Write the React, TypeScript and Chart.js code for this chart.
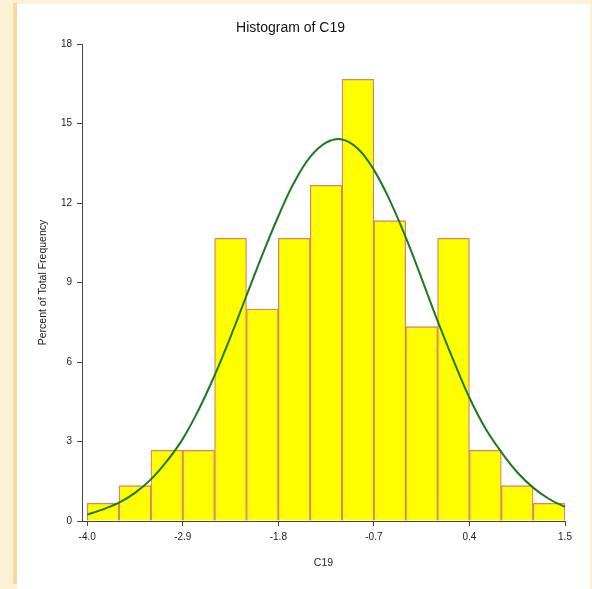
import React, { useEffect, useRef } from "react";
import { Chart, registerables } from "chart.js";

Chart.register(...registerables);

// Histogram bins (C19), range and percentages
const binLow = -4.0;
const binHigh = 1.5;
const binPercents = [
  0.667, 1.333, 2.667, 2.667, 10.667, 8.0, 10.667, 12.667, 16.667, 11.333,
  7.333, 10.667, 2.667, 1.333, 0.667,
];

// Fitted curve
const curveX = [
  -4.0, -3.817, -3.633, -3.45, -3.267, -3.083, -2.9, -2.717, -2.533, -2.35,
  -2.167, -1.983, -1.8, -1.617, -1.433, -1.25, -1.067, -0.883, -0.7, -0.517,
  -0.333, -0.15, 0.033, 0.217, 0.4, 0.583, 0.767, 0.95, 1.133, 1.317, 1.5,
];
const curveY = [
  0.24, 0.44, 0.69, 1.06, 1.57, 2.26, 3.1, 4.2, 5.5, 6.95,
  8.5, 10.05, 11.5, 12.78, 13.74, 14.28, 14.4, 14.05, 13.25, 12.1,
  10.7, 9.15, 7.55, 6.05, 4.65, 3.5, 2.6, 1.84, 1.26, 0.83, 0.53,
];

const xTickValues = [-4.0, -2.9, -1.8, -0.7, 0.4, 1.5];
const yTickStep = 3;
const yMax = 18;

const FONT = "'Liberation Sans', Arial, sans-serif";

export default function App() {
  const canvasRef = useRef<HTMLCanvasElement | null>(null);

  useEffect(() => {
    const canvas = canvasRef.current;
    if (!canvas) return;
    const n = binPercents.length;
    const w = (binHigh - binLow) / n;
    const barData = binPercents.map((p, i) => ({ x: binLow + (i + 0.5) * w, y: p }));
    const lineData = curveX.map((x, i) => ({ x, y: curveY[i] }));

    const chart = new Chart(canvas, {
      type: "bar",
      data: {
        datasets: [
          {
            type: "line",
            data: lineData,
            borderColor: "#1f7a1f",
            borderWidth: 2,
            pointRadius: 0,
            tension: 0.4,
            fill: false,
            order: 0,
          } as any,
          {
            type: "bar",
            data: barData,
            backgroundColor: "#ffff00",
            borderColor: "#d9846a",
            borderWidth: 1.3,
            barPercentage: 1,
            categoryPercentage: 1,
            order: 1,
          } as any,
        ],
      },
      options: {
        animation: false,
        responsive: false,
        devicePixelRatio: 1,
        layout: { padding: { left: 16, right: 27, top: 0, bottom: 0 } },
        plugins: {
          legend: { display: false },
          tooltip: { enabled: false },
          title: {
            display: true,
            text: "Histogram of C19",
            color: "#111",
            font: { family: FONT, size: 14, weight: "normal" },
            padding: { top: 20.2, bottom: 7.0 },
          },
        },
        scales: {
          x: {
            type: "linear",
            min: -4.06,
            max: binHigh,
            offset: false,
            grid: {
              display: true,
              offset: false,
              drawOnChartArea: false,
              drawTicks: true,
              tickLength: 5,
              color: "#444",
            },
            border: { display: true, color: "#444", width: 1 },
            afterBuildTicks: (axis: any) => {
              axis.ticks = xTickValues.map((v) => ({ value: v }));
            },
            afterFit: (axis: any) => {
              axis.height = 68;
            },
            ticks: {
              autoSkip: false,
              maxRotation: 0,
              padding: 5,
              color: "#222",
              font: { family: FONT, size: 10 },
              callback: (v: any) => Number(v).toFixed(1),
            },
            title: {
              display: true,
              text: "C19",
              color: "#222",
              font: { family: FONT, size: 10.5 },
              padding: { top: 0, bottom: 19.7 },
            },
          },
          y: {
            type: "linear",
            min: 0,
            max: yMax,
            grid: {
              display: true,
              drawOnChartArea: false,
              drawTicks: true,
              tickLength: 5,
              color: "#444",
            },
            border: { display: true, color: "#444", width: 1 },
            afterFit: (axis: any) => {
              axis.width = 66;
            },
            ticks: {
              stepSize: yTickStep,
              padding: 5,
              color: "#222",
              font: { family: FONT, size: 10 },
            },
            title: {
              display: true,
              text: "Percent of Total Frequency",
              color: "#222",
              font: { family: FONT, size: 10.5 },
              padding: { top: 21.2, bottom: 0 },
            },
          },
        },
      },
    });
    return () => chart.destroy();
  }, []);

  return (
    <div
      style={{
        position: "absolute",
        left: 0,
        top: 0,
        width: 592,
        height: 589,
        background: "#fcf1d2",
        overflow: "hidden",
      }}
    >
      <div
        style={{
          position: "absolute",
          left: 13,
          top: 3,
          width: 4,
          height: 581,
          background: "#f1dca2",
        }}
      />
      <div
        style={{
          position: "absolute",
          left: 17,
          top: 4,
          width: 573,
          height: 585,
          background: "#ffffff",
        }}
      />
      <canvas
        ref={canvasRef}
        width={592}
        height={589}
        style={{ position: "absolute", left: 0, top: 0, width: 592, height: 589 }}
      />
    </div>
  );
}
